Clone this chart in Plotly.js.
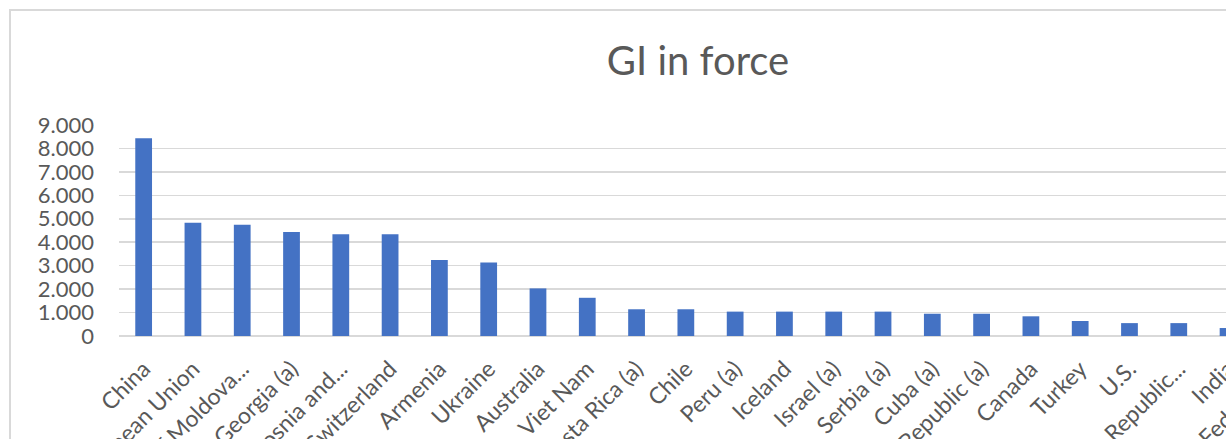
<!DOCTYPE html>
<html>
<head>
<meta charset="utf-8">
<script src="https://cdn.plot.ly/plotly-3.0.1.min.js"></script>
<style>
  html, body { margin: 0; padding: 0; background: #ffffff; overflow: hidden; width: 1226px; height: 439px; }
  #frame { position: absolute; left: 9px; top: 9px; border: 2px solid #d9d9d9; width: 1374px; height: 520px; background: #ffffff; }
  #chart { width: 1374px; height: 520px; }
</style>
</head>
<body>
<div id="frame"><div id="chart"></div></div>
<script>
// Geographical indications in force, by jurisdiction
const categories = [
  "China", "European Union", "Republic of Moldova...", "Georgia (a)", "Bosnia and...",
  "Switzerland", "Armenia", "Ukraine", "Australia", "Viet Nam", "Costa Rica (a)",
  "Chile", "Peru (a)", "Iceland", "Israel (a)", "Serbia (a)", "Cuba (a)",
  "Dominican Republic (a)", "Canada", "Turkey", "U.S.", "Korea, Republic...", "India",
  "Russian Federation"
];
const giInForce = [
  8430, 4830, 4740, 4440, 4340,
  4340, 3240, 3130, 2030, 1630, 1140,
  1140, 1040, 1040, 1040, 1040, 950,
  950, 840, 640, 550, 550, 340,
  250
];
const yTicks = [0, 1000, 2000, 3000, 4000, 5000, 6000, 7000, 8000, 9000];

const textColor = "#595959";
const gridColor = "#d9d9d9";
const fontFamily = "Lato, 'Open Sans', sans-serif";

const trace = {
  type: "bar",
  x: categories,
  y: giInForce,
  marker: { color: "#4472c4", line: { width: 0 } },
  width: 0.34,
  hoverinfo: "x+y"
};

const layout = {
  width: 1374,
  height: 520,
  separators: ",.",
  paper_bgcolor: "#ffffff",
  plot_bgcolor: "#ffffff",
  margin: { l: 108, r: 83, t: 114, b: 195 },
  title: {
    text: "GI in force",
    font: { family: fontFamily, size: 40, color: textColor },
    x: 0.5, xanchor: "center",
    y: 1 - 50 / 520, yanchor: "middle", yref: "container"
  },
  showlegend: false,
  bargap: 0.66,
  xaxis: {
    type: "category",
    tickangle: -45,
    showline: false,
    showgrid: false,
    ticks: "",
    ticklabelstandoff: 14,
    tickfont: { family: fontFamily, size: 23, color: textColor },
    fixedrange: true
  },
  yaxis: {
    range: [0, 9000],
    tickvals: yTicks,
    tickformat: ",",
    showgrid: true,
    gridcolor: gridColor,
    gridwidth: 1.5,
    zeroline: true,
    zerolinecolor: gridColor,
    zerolinewidth: 1.5,
    showline: false,
    ticks: "",
    ticklabelstandoff: 24,
    tickfont: { family: fontFamily, size: 22, color: textColor },
    fixedrange: true
  }
};

Plotly.newPlot("chart", [trace], layout, { displayModeBar: false, staticPlot: true });
</script>
</body>
</html>
